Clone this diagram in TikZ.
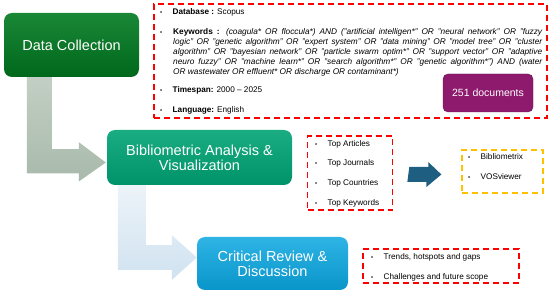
\documentclass[tikz,border=0pt]{standalone}
\usepackage{fontspec}
\setmainfont{Liberation Sans}
\usetikzlibrary{calc}

\definecolor{collectgreen}{RGB}{0,122,32}
\definecolor{analysisgreen}{RGB}{0,163,116}
\definecolor{reviewblue}{RGB}{10,166,224}
\definecolor{docpurple}{RGB}{142,26,110}
\definecolor{arrowgray}{RGB}{168,186,171}
\definecolor{arrowblue}{RGB}{208,226,240}
\definecolor{toolarrow}{RGB}{30,94,128}
\definecolor{toolyellow}{RGB}{255,192,0}

\newcommand{\dotitem}{\makebox[12.5pt][l]{\fontsize{6}{6}\selectfont\raisebox{0.6pt}{•}}}

\begin{document}
\begin{tikzpicture}[x=1pt,y=-1pt,
    stage/.style={rounded corners=8pt, text=white, align=center, inner sep=0pt,
      font=\fontsize{14.5}{15}\selectfont},
    reddash/.style={draw=red, line width=1.6pt, dash pattern=on 6pt off 4pt, inner sep=0pt},
    item/.style={anchor=base west, inner sep=0pt, font=\fontsize{8.2}{10}\selectfont}]
	\useasboundingbox (0,0) rectangle (550,294);

	% Draw the three stages
	\node[stage, minimum width=135pt, minimum height=64pt,
	  top color=collectgreen!90!white, bottom color=collectgreen!85!black] (collect) at (71.5,45) {Data Collection};
	\node[stage, minimum width=185pt, minimum height=55pt,
	  top color=analysisgreen!90!white, bottom color=analysisgreen!90!black] (analysis) at (199.5,157.5) {Bibliometric Analysis \&\\Visualization};
	\node[stage, minimum width=151pt, minimum height=53pt,
	  top color=reviewblue!85!white, bottom color=reviewblue!90!black] (review) at (272.5,263.5) {Critical Review \&\\Discussion};

	% Draw the bent arrows between the stages
	\path[top color=arrowgray!70!white, bottom color=arrowgray]
	  ($(collect.south west)+(23,0)$) -- ++(25,0) -- ++(0,72) -- ++(27,0) -- ++(0,-7)
	  -- ($(analysis.west)+(-1,5)$) -- ++(-27,19) -- ++(0,-8) -- ++(-52,0) -- cycle;
	\path[top color=arrowblue!40!white, bottom color=arrowblue]
	  ($(analysis.south west)+(11,0)$) -- ++(28,0) -- ++(0,60) -- ++(26,0) -- ++(0,-10)
	  -- ($(review.west)+(0,-6)$) -- ++(-25,22.5) -- ++(0,-10) -- ++(-54,0) -- cycle;

	% Search details
	\node[reddash, minimum width=393pt, minimum height=114pt] (search) at (350.5,61) {};
	\node[item] (database) at (160,15) {\dotitem\textbf{Database :} Scopus};
	\node[item] (kwdot) at (160,35) {\dotitem};
	\node[anchor=north west, inner sep=0pt, text width=369pt, align=justify,
	  font=\fontsize{8.3}{10}\selectfont] (keywords) at (173,28.3)
	  {\textbf{Keywords :} \textit{(coagula* OR floccula*) AND ("artificial intelligen*" OR "neural network" OR "fuzzy\linebreak
	  logic" OR "genetic algorithm" OR "expert system" OR "data mining" OR "model tree" OR "cluster\linebreak
	  algorithm" OR "bayesian network" OR "particle swarm optim*" OR "support vector" OR "adaptive\linebreak
	  neuro fuzzy" OR "machine learn*" OR "search algorithm*" OR "genetic algorithm*") AND (water\linebreak
	  OR wastewater OR effluent* OR discharge OR contaminant*)}};
	\node[item] (timespan) at (160,93) {\dotitem\textbf{Timespan:} 2000 -- 2025};
	\node[item] (language) at (160,113) {\dotitem\textbf{Language:} English};
	\node[rounded corners=5pt, fill=docpurple, draw=docpurple!70!black, minimum width=90pt, minimum height=38pt,
	  text=white, font=\fontsize{10.5}{12}\selectfont] (docs) at (488,93) {251 documents};

	% Bibliometric outputs
	\node[reddash, minimum width=85pt, minimum height=74pt] (topics) at (350,173) {};
	\node[item] (articles) at (315,147) {\dotitem Top Articles};
	\node[item] (journals) at (315,166) {\dotitem Top Journals};
	\node[item] (countries) at (315,186) {\dotitem Top Countries};
	\node[item] (kwords) at (315,206) {\dotitem Top Keywords};

	% Tools
	\node[draw=toolyellow, line width=1.3pt, dash pattern=on 6pt off 4pt, inner sep=0pt,
	  minimum width=81pt, minimum height=43pt] (tools) at (502.5,171.5) {};
	\node[item] (biblio) at (468,160) {\dotitem Bibliometrix};
	\node[item] (vos) at (468,180) {\dotitem VOSviewer};
	\fill[toolarrow] ($(topics.east)+(16,-6)$) -- ++(19,0) -- ++(0,-5)
	  -- ($(tools.west)+(-20,3)$) -- ++(-15,12.5) -- ++(0,-5) -- ++(-19,0) -- cycle;

	% Review outcomes
	\node[reddash, minimum width=156pt, minimum height=34pt] (outlook) at (441,266) {};
	\node[item] (trends) at (371,260) {\dotitem Trends, hotspots and gaps};
	\node[item] (scope) at (371,280) {\dotitem Challenges and future scope};
\end{tikzpicture}
\end{document}
